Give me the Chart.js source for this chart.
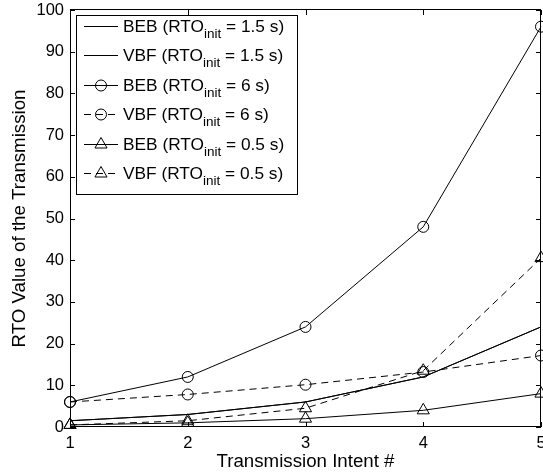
<!DOCTYPE html>
<html>
<head>
<meta charset="utf-8">
<script src="https://cdn.jsdelivr.net/npm/chart.js@4/dist/chart.umd.min.js"></script>
<style>
html,body{margin:0;padding:0;background:#fff;}
#wrap{position:relative;width:543px;height:476px;}
</style>
</head>
<body>
<div id="wrap"><canvas id="c" width="543" height="476"></canvas></div>
<script>
// ---- data ----
const transmissionIntents = [1, 2, 3, 4, 5];
const bebInit15 = [1.5, 3, 6, 12, 24];
const vbfInit15 = [1.5, 3, 6, 12, 24];
const bebInit6 = [6, 12, 24, 48, 96];
const vbfInit6 = [6, 7.8, 10.14, 13.18, 17.14];
const bebInit05 = [0.5, 1, 2, 4, 8];
const vbfInit05 = [0.5, 1.5, 4.5, 13.5, 40.5];
const seriesNames = ['BEB', 'VBF', 'BEB', 'VBF', 'BEB', 'VBF'];
const rtoInitValues = ['1.5', '1.5', '6', '6', '0.5', '0.5'];
const yTicks = [0, 10, 20, 30, 40, 50, 60, 70, 80, 90, 100];
const xAxisTitle = 'Transmission Intent #';
const yAxisTitle = 'RTO Value of the Transmission';

const FONT = '"Liberation Sans", Arial, Helvetica, sans-serif';
const seriesValues = [bebInit15, vbfInit15, bebInit6, vbfInit6, bebInit05, vbfInit05];
const markers = [false, false, 'circle', 'circle', 'triangle', 'triangle'];
const dashed = [false, false, false, true, false, true];

const datasets = seriesValues.map((vals, i) => ({
  label: seriesNames[i] + ' (RTO_init = ' + rtoInitValues[i] + ' s)',
  data: transmissionIntents.map((x, j) => ({x: x, y: vals[j]})),
  borderColor: '#000',
  borderWidth: 1,
  borderDash: dashed[i] ? [7, 5] : [],
  backgroundColor: 'rgba(0,0,0,0)',
  pointStyle: markers[i] || 'circle',
  pointRadius: markers[i] === 'triangle' ? 7 : (markers[i] === 'circle' ? 5.5 : 0),
  pointBorderColor: '#000',
  pointBackgroundColor: 'rgba(0,0,0,0)',
  pointBorderWidth: 1,
  tension: 0,
  clip: false
}));

const boxPlugin = {
  id: 'boxPlugin',
  afterDatasetsDraw(chart) {
    const ctx = chart.ctx;
    const a = chart.chartArea;
    const xs = chart.scales.x, ys = chart.scales.y;
    ctx.save();
    ctx.strokeStyle = '#000';
    ctx.lineWidth = 1;
    ctx.setLineDash([]);
    ctx.strokeRect(Math.round(a.left) + 0.5, Math.round(a.top) - 0.5,
      Math.round(a.right - a.left) - 1, Math.round(a.bottom - a.top));
    const tl = 5;
    ctx.beginPath();
    transmissionIntents.forEach(v => {
      const px = Math.round(xs.getPixelForValue(v)) + 0.5;
      ctx.moveTo(px, a.bottom); ctx.lineTo(px, a.bottom - tl);
      ctx.moveTo(px, a.top); ctx.lineTo(px, a.top + tl);
    });
    yTicks.forEach(v => {
      const py = Math.round(ys.getPixelForValue(v)) + 0.5;
      ctx.moveTo(a.left, py); ctx.lineTo(a.left + tl, py);
      ctx.moveTo(a.right, py); ctx.lineTo(a.right - tl, py);
    });
    ctx.stroke();
    ctx.restore();
  },
  afterDraw(chart) {
    const ctx = chart.ctx;
    ctx.save();
    // legend box
    const bx = 76.5, by = 15.5, bw = 221, bh = 179;
    ctx.fillStyle = '#fff';
    ctx.fillRect(bx, by, bw, bh);
    ctx.strokeStyle = '#000';
    ctx.lineWidth = 1;
    ctx.strokeRect(bx, by, bw, bh);
    chart.data.datasets.forEach((ds, i) => {
      const y = 26 + i * 29.4;
      ctx.strokeStyle = '#000';
      ctx.lineWidth = 1;
      ctx.setLineDash(dashed[i] ? [7, 5] : []);
      ctx.beginPath();
      ctx.moveTo(84, Math.round(y) + 0.5);
      ctx.lineTo(118, Math.round(y) + 0.5);
      ctx.stroke();
      ctx.setLineDash([]);
      const mx = 101, my = Math.round(y) + 0.5;
      if (markers[i] === 'circle') {
        ctx.beginPath(); ctx.arc(mx, my, 5.5, 0, Math.PI * 2); ctx.stroke();
      } else if (markers[i] === 'triangle') {
        const r = 7;
        ctx.beginPath();
        ctx.moveTo(mx, my - r);
        ctx.lineTo(mx + r * Math.sin(Math.PI / 3), my + r * 0.5);
        ctx.lineTo(mx - r * Math.sin(Math.PI / 3), my + r * 0.5);
        ctx.closePath(); ctx.stroke();
      }
      ctx.fillStyle = '#000';
      ctx.textBaseline = 'alphabetic';
      ctx.textAlign = 'left';
      ctx.font = '17.3px ' + FONT;
      const base = y + 6;
      let tx = 123;
      const pre = seriesNames[i] + ' (RTO';
      ctx.fillText(pre, tx, base);
      tx += ctx.measureText(pre).width;
      ctx.font = '13.5px ' + FONT;
      ctx.fillText('init', tx, base + 6);
      tx += ctx.measureText('init').width;
      ctx.font = '17.3px ' + FONT;
      ctx.fillText(' = ' + rtoInitValues[i] + ' s)', tx, base);
    });
    ctx.restore();
  }
};

new Chart(document.getElementById('c'), {
  type: 'line',
  data: { datasets: datasets },
  plugins: [boxPlugin],
  options: {
    responsive: false,
    animation: false,
    devicePixelRatio: 1,
    layout: { autoPadding: false, padding: { top: 10, right: 2, left: 0, bottom: 0 } },
    plugins: { legend: { display: false }, tooltip: { enabled: false } },
    scales: {
      x: {
        type: 'linear', min: 1, max: 5,
        afterBuildTicks(s) { s.ticks = transmissionIntents.map(v => ({value: v})); },
        ticks: { color: '#000', font: { size: 16.5, family: FONT }, padding: 7, maxRotation: 0, autoSkip: false },
        grid: { display: false, drawTicks: false },
        border: { display: false },
        title: { display: true, text: xAxisTitle, color: '#000', font: { size: 18.7, family: FONT }, padding: { top: 0, bottom: 3 } },
        afterFit(s) { s.height = 49; s.paddingLeft = 0; s.paddingRight = 0; }
      },
      y: {
        type: 'linear', min: 0, max: 100,
        afterBuildTicks(s) { s.ticks = yTicks.map(v => ({value: v})); },
        ticks: { color: '#000', font: { size: 16.5, family: FONT }, padding: 6, autoSkip: false },
        grid: { display: false, drawTicks: false },
        border: { display: false },
        title: { display: true, text: yAxisTitle, color: '#000', font: { size: 18.7, family: FONT }, padding: { top: 9, bottom: 0 } },
        afterFit(s) { s.width = 70; s.paddingTop = 0; s.paddingBottom = 0; }
      }
    }
  }
});
</script>
</body>
</html>
